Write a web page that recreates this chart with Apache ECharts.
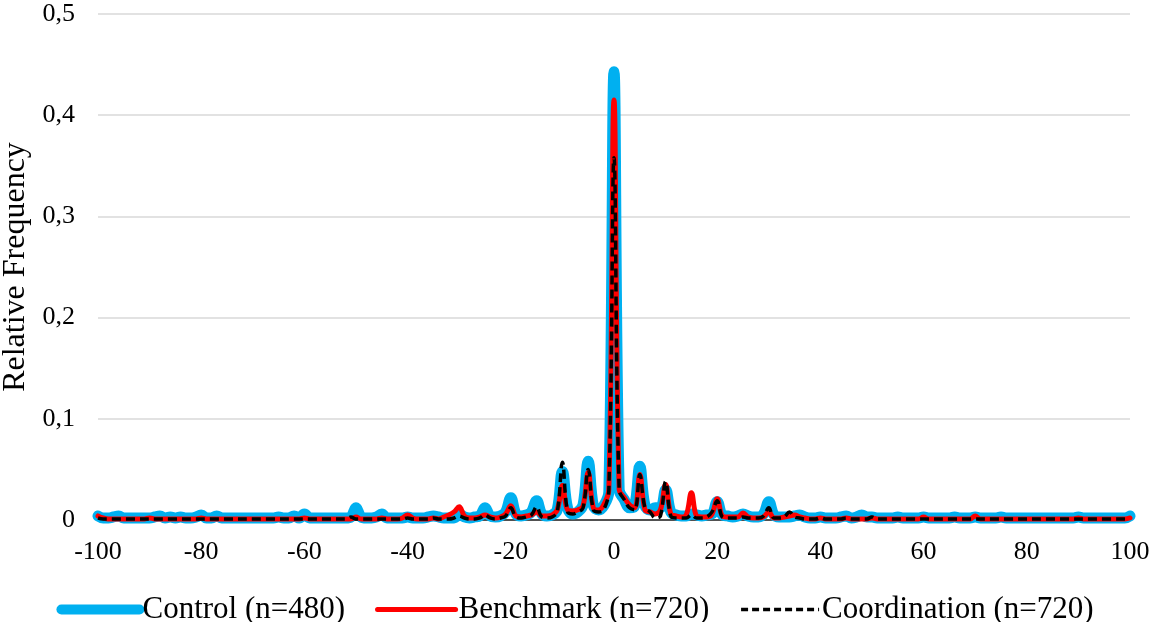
<!DOCTYPE html>
<html>
<head>
<meta charset="utf-8">
<script src="https://cdn.jsdelivr.net/npm/echarts@6/dist/echarts.min.js"></script>
<style>
  html, body { margin: 0; padding: 0; background: #fff; }
  #chart { width: 1150px; height: 622px; }
</style>
</head>
<body>
<div id="chart"></div>
<script>
// x runs from -100 to 100, one value per unit
var xStart = -100
var xEnd = 100

var seriesNames = ['Control (n=480)', 'Benchmark (n=720)', 'Coordination (n=720)']

// Control (n=480)
var control = [
  0.004, 0.002, 0.002, 0.003, 0.004, 0.002, 0.002, 0.002, 0.002, 0.002, // -100..-91
  0.002, 0.003, 0.004, 0.002, 0.003, 0.002, 0.003, 0.002, 0.002, 0.003, // -90..-81
  0.005, 0.002, 0.002, 0.004, 0.002, 0.002, 0.002, 0.002, 0.002, 0.002, // -80..-71
  0.002, 0.002, 0.002, 0.002, 0.002, 0.003, 0.002, 0.002, 0.004, 0.002, // -70..-61
  0.006, 0.002, 0.002, 0.002, 0.002, 0.002, 0.002, 0.002, 0.002, 0.003, // -60..-51
  0.012, 0.003, 0.002, 0.002, 0.003, 0.006, 0.002, 0.002, 0.002, 0.002, // -50..-41
  0.003, 0.002, 0.002, 0.002, 0.003, 0.004, 0.003, 0.002, 0.002, 0.002, // -40..-31
  0.006, 0.003, 0.002, 0.003, 0.004, 0.012, 0.004, 0.003, 0.004, 0.008, // -30..-21
  0.022, 0.006, 0.004, 0.005, 0.008, 0.019, 0.006, 0.004, 0.005, 0.010, // -20..-11
  0.048, 0.012, 0.006, 0.008, 0.015, 0.058, 0.014, 0.010, 0.014, 0.028, // -10..-1
  0.443, 0.030, 0.020, 0.012, 0.014, 0.053, 0.014, 0.010, 0.012, 0.012, // 0..9
  0.030, 0.008, 0.005, 0.004, 0.004, 0.006, 0.005, 0.004, 0.005, 0.006, // 10..19
  0.018, 0.005, 0.004, 0.003, 0.004, 0.006, 0.004, 0.003, 0.003, 0.006, // 20..29
  0.018, 0.005, 0.003, 0.003, 0.003, 0.004, 0.005, 0.003, 0.002, 0.002, // 30..39
  0.003, 0.002, 0.002, 0.002, 0.003, 0.004, 0.002, 0.003, 0.005, 0.003, // 40..49
  0.003, 0.002, 0.002, 0.002, 0.002, 0.003, 0.002, 0.002, 0.002, 0.002, // 50..59
  0.003, 0.002, 0.002, 0.002, 0.002, 0.002, 0.003, 0.002, 0.002, 0.002, // 60..69
  0.003, 0.002, 0.002, 0.002, 0.002, 0.003, 0.002, 0.002, 0.002, 0.002, // 70..79
  0.002, 0.002, 0.002, 0.002, 0.002, 0.002, 0.002, 0.002, 0.002, 0.002, // 80..89
  0.003, 0.002, 0.002, 0.002, 0.002, 0.002, 0.002, 0.002, 0.002, 0.002, // 90..99
  0.004 // 100
]

// Benchmark (n=720)
var benchmark = [
  0.004, 0.002, 0.001, 0.001, 0.001, 0.001, 0.001, 0.001, 0.001, 0.001, // -100..-91
  0.002, 0.001, 0.001, 0.001, 0.001, 0.001, 0.001, 0.001, 0.001, 0.001, // -90..-81
  0.002, 0.001, 0.001, 0.001, 0.001, 0.001, 0.001, 0.001, 0.001, 0.001, // -80..-71
  0.001, 0.001, 0.001, 0.001, 0.001, 0.001, 0.001, 0.001, 0.001, 0.001, // -70..-61
  0.002, 0.001, 0.001, 0.001, 0.001, 0.001, 0.001, 0.001, 0.001, 0.001, // -60..-51
  0.003, 0.001, 0.001, 0.001, 0.001, 0.002, 0.001, 0.001, 0.001, 0.002, // -50..-41
  0.005, 0.002, 0.001, 0.001, 0.001, 0.002, 0.001, 0.003, 0.005, 0.008, // -40..-31
  0.013, 0.004, 0.002, 0.002, 0.003, 0.005, 0.003, 0.002, 0.003, 0.006, // -30..-21
  0.014, 0.004, 0.003, 0.004, 0.005, 0.008, 0.004, 0.004, 0.005, 0.010, // -20..-11
  0.034, 0.010, 0.009, 0.010, 0.014, 0.047, 0.012, 0.010, 0.015, 0.030, // -10..-1
  0.415, 0.030, 0.022, 0.015, 0.012, 0.045, 0.010, 0.008, 0.006, 0.010, // 0..9
  0.035, 0.006, 0.004, 0.003, 0.005, 0.027, 0.004, 0.003, 0.003, 0.006, // 10..19
  0.021, 0.004, 0.003, 0.003, 0.003, 0.007, 0.003, 0.002, 0.002, 0.003, // 20..29
  0.008, 0.002, 0.002, 0.003, 0.004, 0.005, 0.003, 0.002, 0.001, 0.001, // 30..39
  0.002, 0.001, 0.001, 0.001, 0.001, 0.002, 0.001, 0.001, 0.001, 0.001, // 40..49
  0.002, 0.001, 0.001, 0.001, 0.001, 0.001, 0.001, 0.001, 0.001, 0.001, // 50..59
  0.003, 0.001, 0.001, 0.001, 0.001, 0.001, 0.001, 0.001, 0.001, 0.001, // 60..69
  0.004, 0.001, 0.001, 0.001, 0.001, 0.001, 0.001, 0.001, 0.001, 0.001, // 70..79
  0.001, 0.001, 0.001, 0.001, 0.001, 0.001, 0.001, 0.001, 0.001, 0.001, // 80..89
  0.002, 0.001, 0.001, 0.001, 0.001, 0.001, 0.001, 0.001, 0.001, 0.001, // 90..99
  0.002 // 100
]

// Coordination (n=720)
var coordination = [
  0.002, 0.001, 0.001, 0.001, 0.001, 0.001, 0.001, 0.001, 0.001, 0.001, // -100..-91
  0.001, 0.001, 0.001, 0.001, 0.001, 0.001, 0.001, 0.001, 0.001, 0.001, // -90..-81
  0.001, 0.001, 0.001, 0.001, 0.001, 0.001, 0.001, 0.001, 0.001, 0.001, // -80..-71
  0.001, 0.001, 0.001, 0.001, 0.001, 0.001, 0.001, 0.001, 0.001, 0.001, // -70..-61
  0.001, 0.001, 0.001, 0.001, 0.001, 0.001, 0.001, 0.001, 0.001, 0.003, // -60..-51
  0.001, 0.001, 0.001, 0.001, 0.001, 0.001, 0.001, 0.001, 0.001, 0.001, // -50..-41
  0.002, 0.001, 0.001, 0.001, 0.001, 0.002, 0.001, 0.001, 0.001, 0.002, // -40..-31
  0.004, 0.002, 0.001, 0.001, 0.002, 0.005, 0.002, 0.001, 0.002, 0.004, // -30..-21
  0.012, 0.003, 0.002, 0.003, 0.005, 0.013, 0.003, 0.002, 0.003, 0.008, // -20..-11
  0.057, 0.008, 0.006, 0.008, 0.012, 0.050, 0.010, 0.008, 0.010, 0.030, // -10..-1
  0.358, 0.030, 0.020, 0.012, 0.010, 0.045, 0.012, 0.008, 0.002, 0.004, // 0..9
  0.038, 0.004, 0.002, 0.002, 0.002, 0.005, 0.002, 0.002, 0.003, 0.008, // 10..19
  0.019, 0.003, 0.002, 0.002, 0.002, 0.003, 0.002, 0.002, 0.002, 0.004, // 20..29
  0.012, 0.002, 0.002, 0.003, 0.008, 0.003, 0.002, 0.001, 0.001, 0.001, // 30..39
  0.002, 0.001, 0.001, 0.001, 0.001, 0.002, 0.001, 0.001, 0.001, 0.001, // 40..49
  0.003, 0.001, 0.001, 0.001, 0.001, 0.001, 0.001, 0.001, 0.001, 0.001, // 50..59
  0.001, 0.001, 0.001, 0.001, 0.001, 0.001, 0.001, 0.001, 0.001, 0.001, // 60..69
  0.001, 0.001, 0.001, 0.001, 0.001, 0.001, 0.001, 0.001, 0.001, 0.001, // 70..79
  0.001, 0.001, 0.001, 0.001, 0.001, 0.001, 0.001, 0.001, 0.001, 0.001, // 80..89
  0.001, 0.001, 0.001, 0.001, 0.001, 0.001, 0.001, 0.001, 0.001, 0.001, // 90..99
  0.001 // 100
]

var fontFamily = '"Liberation Serif", "Times New Roman", serif'

function pairs (vals) {
  var out = []
  for (var i = 0; i < vals.length; i++) {
    out.push([xStart + i, vals[i]])
  }
  return out
}

var myChart = echarts.init(document.getElementById('chart'))

myChart.setOption({
  animation: false,
  textStyle: { fontFamily: fontFamily },
  grid: { left: 98, right: 20, top: 14, bottom: 102, outerBoundsMode: 'none', containLabel: false },
  legend: {
    top: 589,
    left: 'center',
    itemWidth: 78,
    itemHeight: 14,
    itemGap: 30,
    itemStyle: { opacity: 0 },
    textStyle: { fontFamily: fontFamily, fontSize: 31, color: '#000', padding: [0, 0, 0, -2] },
    data: [
      { name: seriesNames[0], lineStyle: { width: 10, cap: 'round' } },
      { name: seriesNames[1], lineStyle: { width: 5, cap: 'round' } },
      { name: seriesNames[2], lineStyle: { width: 3.5, type: [7, 4] } }
    ]
  },
  xAxis: {
    type: 'value',
    min: xStart,
    max: xEnd,
    interval: 20,
    axisLine: { show: true, onZero: false, lineStyle: { color: '#222', width: 1.5 } },
    axisTick: { show: false },
    splitLine: { show: false },
    axisLabel: { fontFamily: fontFamily, fontSize: 26, color: '#000', margin: 19 }
  },
  yAxis: {
    type: 'value',
    min: 0,
    max: 0.5,
    interval: 0.1,
    name: 'Relative Frequency',
    nameLocation: 'middle',
    nameGap: 60,
    nameTextStyle: { fontFamily: fontFamily, fontSize: 32, color: '#000' },
    axisLine: { show: false },
    axisTick: { show: false },
    splitLine: { lineStyle: { color: '#d9d9d9', width: 1.5 } },
    axisLabel: {
      fontFamily: fontFamily,
      fontSize: 26,
      color: '#000',
      margin: 23,
      formatter: function (v) {
        return v === 0 ? '0' : v.toFixed(1).replace('.', ',')
      }
    }
  },
  series: [
    {
      name: seriesNames[0],
      type: 'line',
      data: pairs(control),
      smooth: 0.4,
      symbol: 'none',
      lineStyle: { color: '#00b0f0', width: 11, cap: 'round', join: 'round' },
      itemStyle: { color: '#00b0f0' },
      z: 2
    },
    {
      name: seriesNames[1],
      type: 'line',
      data: pairs(benchmark),
      smooth: 0.4,
      symbol: 'none',
      lineStyle: { color: '#ff0000', width: 5, cap: 'round', join: 'round' },
      itemStyle: { color: '#ff0000' },
      z: 3
    },
    {
      name: seriesNames[2],
      type: 'line',
      data: pairs(coordination),
      smooth: 0.4,
      symbol: 'none',
      lineStyle: { color: '#000', width: 3.5, type: [9, 5] },
      itemStyle: { color: '#000' },
      z: 4
    }
  ]
})
</script>
</body>
</html>
